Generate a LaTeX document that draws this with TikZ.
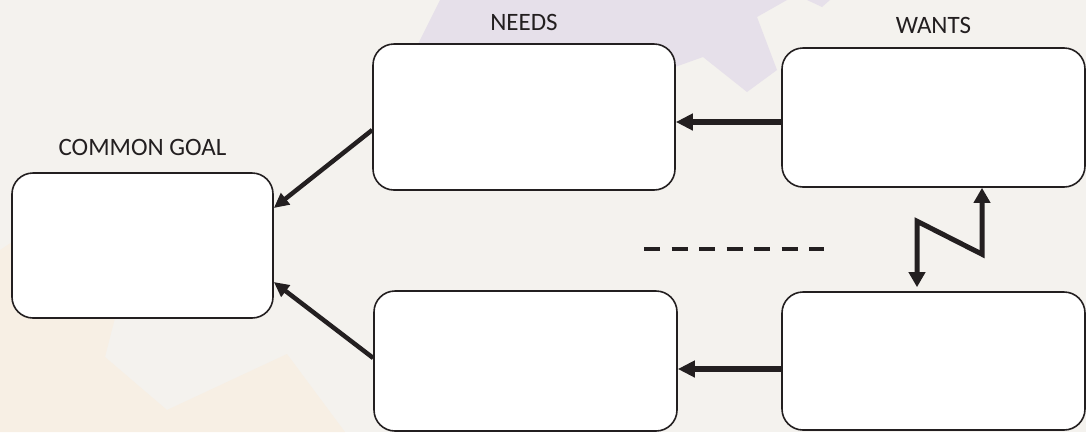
\documentclass[tikz,border=0pt]{standalone}
\usepackage{fontspec}
\setmainfont{Carlito}
\usetikzlibrary{arrows.meta,positioning}
\definecolor{PageTone}{HTML}{F4F2EE}
\definecolor{GearLilac}{HTML}{E6E0EA}
\definecolor{GearPeach}{HTML}{F7EFE4}
\definecolor{InkDark}{HTML}{231F20}
\tikzset{
  mapbox/.style={draw=InkDark, fill=white, line width=1.6pt, rounded corners=21pt, minimum width=303pt, minimum height=140pt, inner sep=0pt},
  maplabel/.style={font=\fontsize{25}{29}\selectfont, text=InkDark, inner sep=0pt},
  fatarrow/.style={-{Triangle[length=17pt,width=16pt]}, line width=6pt, draw=InkDark},
  slimarrow/.style={-{Triangle[length=15pt,width=14pt]}, line width=4.5pt, draw=InkDark},
  zigarrow/.style={{Triangle[length=15pt,width=16pt]}-{Triangle[length=15pt,width=16pt]}, line width=5pt, draw=InkDark, line join=miter},
  gapline/.style={line width=4pt, draw=InkDark, dash pattern=on 16pt off 11.5pt}
}

\begin{document}
\begin{tikzpicture}[x=1pt,y=-1pt]
  \fill[PageTone] (0,0) rectangle (1086,432);
  \useasboundingbox (0,0) rectangle (1086,432);
  % faint gears in the background
  \fill[GearLilac] (440,0) -- (380,120) -- (660,120) -- (675,67) -- (703,57) -- (747,92) -- (777,70) -- (757,17) -- (787,0) -- cycle;
  \fill[GearLilac] (807,0) -- (830,0) -- (822,7) -- cycle;
  \fill[GearPeach] (0,250) -- (30,230) -- (115,300) -- (115,318) -- (105,357) -- (167,410) -- (287,354) -- (345,432) -- (0,432) -- cycle;

  % boxes
  \node[mapbox, minimum width=261pt, minimum height=145pt] (goal) at (142.5,245.5) {};
  \node[mapbox, minimum width=302pt, minimum height=146pt] (needs) at (524,117) {};
  \node[mapbox, minimum height=139pt] (wants) at (933.5,117.5) {};
  \node[mapbox] (needsb) at (525.5,361) {};
  \node[mapbox, minimum height=138pt] (wantsb) at (933.5,361) {};

  % headings
  \node[maplabel, above=16pt of goal] (goallbl) {COMMON GOAL};
  \node[maplabel, above=12pt of needs] (needslbl) {NEEDS};
  \node[maplabel, above=13pt of wants] (wantslbl) {WANTS};

  % arrows
  \draw[fatarrow] ([yshift=-4.5pt]wants.west) -- ([yshift=-5pt]needs.east);
  \draw[fatarrow] ([yshift=-8pt]wantsb.west) -- ([yshift=-8pt]needsb.east);
  \draw[slimarrow] ([yshift=-13pt]needs.west) -- ([yshift=37.5pt]goal.east);
  \draw[slimarrow] ([yshift=3pt]needsb.west) -- ([yshift=-36.5pt]goal.east);
  \draw[zigarrow] ([xshift=-16.5pt,yshift=4pt]wantsb.north) -- ++(0,-66) -- ++(65,33) -- ([xshift=48.5pt]wants.south);
  \draw[gapline] (644,249) -- (824,249);
\end{tikzpicture}
\end{document}
